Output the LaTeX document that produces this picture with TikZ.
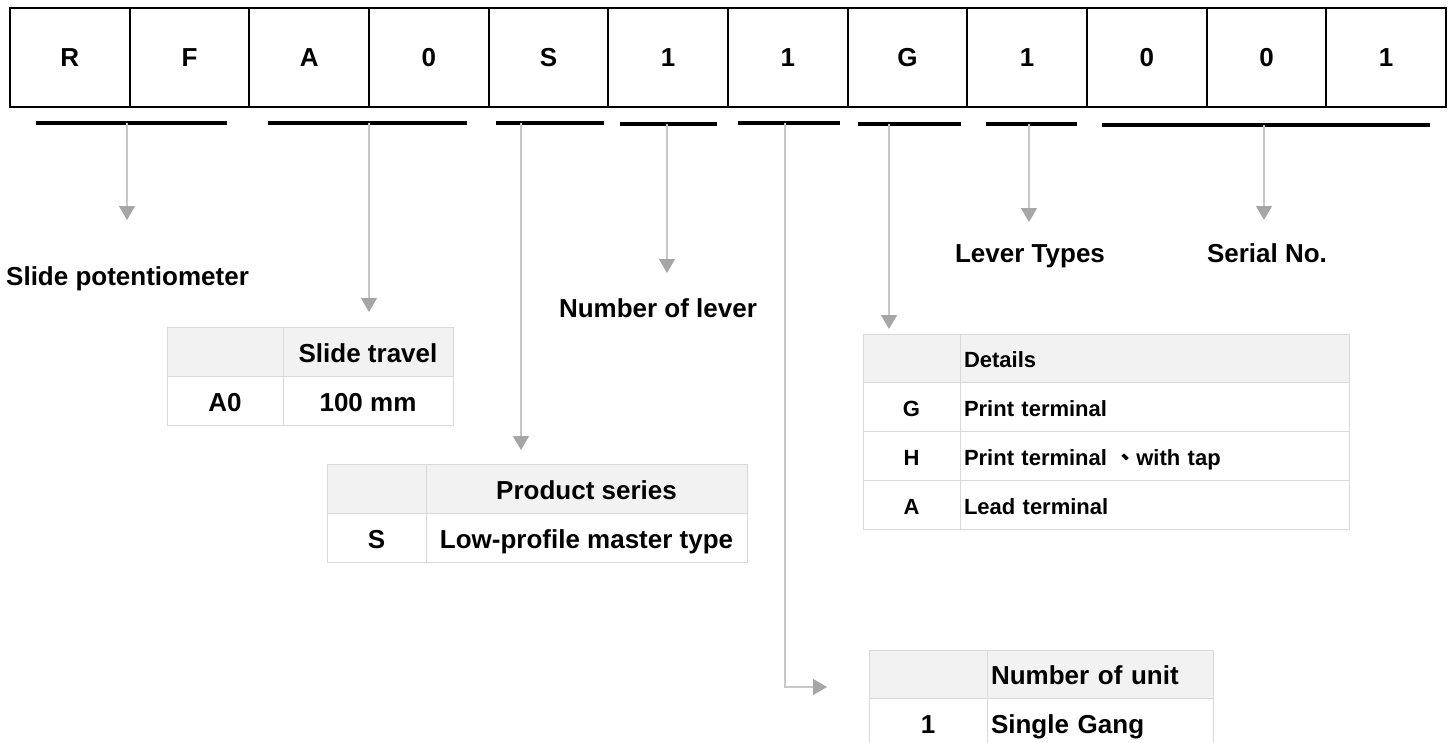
\documentclass[tikz,border=0pt]{standalone}
\usepackage{fontspec}
\setmainfont{Liberation Sans}
\newfontfamily\cjk{Noto Sans CJK TC}
\usetikzlibrary{arrows.meta,positioning}

\definecolor{tblline}{HTML}{D9D9D9}
\definecolor{tblfill}{HTML}{F2F2F2}
\definecolor{linegray}{HTML}{C8C8C8}
\definecolor{tipgray}{HTML}{A6A6A6}

\newcommand{\bigtxt}{\bfseries\fontsize{26}{30}\selectfont}
\newcommand{\smalltxt}{\bfseries\fontsize{22}{26}\selectfont}

\tikzset{
  codecell/.style={draw=black, line width=2pt, outer sep=0pt, inner sep=0pt,
    minimum width=119.67pt, minimum height=99.5pt,
    text height=19pt, text depth=0pt, font=\bigtxt},
  codebar/.style={black, line width=4pt},
  pointer/.style={linegray, line width=1.2pt,
    -{Triangle[width=16pt,length=14pt,color=tipgray]}},
  lbl/.style={inner sep=0pt, font=\bigtxt},
  tcell/.style={draw=tblline, line width=1pt, outer sep=0pt, inner sep=0pt,
    anchor=north west, text height=21pt, text depth=0pt, font=\bigtxt},
  thead/.style={tcell, fill=tblfill},
  small/.style={font=\smalltxt, text height=19pt, text depth=0pt},
}

\begin{document}
\begin{tikzpicture}[x=1pt, y=-1pt]
  \useasboundingbox (0,0) rectangle (1453,742);

  % part number
  \node[codecell] (c1) at (69.83,57.25) {R};
  \node[codecell, right=0pt of c1] (c2) {F};
  \node[codecell, right=0pt of c2] (c3) {A};
  \node[codecell, right=0pt of c3] (c4) {0};
  \node[codecell, right=0pt of c4] (c5) {S};
  \node[codecell, right=0pt of c5] (c6) {1};
  \node[codecell, right=0pt of c6] (c7) {1};
  \node[codecell, right=0pt of c7] (c8) {G};
  \node[codecell, right=0pt of c8] (c9) {1};
  \node[codecell, right=0pt of c9] (c10) {0};
  \node[codecell, right=0pt of c10] (c11) {0};
  \node[codecell, right=0pt of c11] (c12) {1};

  % groups under the code
  \draw[codebar] (36,123) -- (227,123);
  \draw[codebar] (268,123) -- (467,123);
  \draw[codebar] (496,123) -- (604,123);
  \draw[codebar] (620,124) -- (717,124);
  \draw[codebar] (738,123) -- (840,123);
  \draw[codebar] (858,124) -- (961,124);
  \draw[codebar] (986,124) -- (1077,124);
  \draw[codebar] (1102,125) -- (1430,125);

  \coordinate (b1) at (127,123);
  \coordinate (b2) at (369,123);
  \coordinate (b3) at (521,123);
  \coordinate (b4) at (667,124);
  \coordinate (b5) at (785,123);
  \coordinate (b6) at (889,124);
  \coordinate (b7) at (1029,124);
  \coordinate (b8) at (1264,125);

  % labels
  \node[lbl, anchor=base west] (slidepot) at (6,285) {Slide potentiometer};
  \node[lbl, anchor=base] (numlev) at (658,317) {Number of lever};
  \node[lbl, anchor=base] (levtype) at (1030,262) {Lever Types};
  \node[lbl, anchor=base] (serial) at (1267,262) {Serial No.};

  % slide travel
  \node[thead, minimum width=116pt, minimum height=49pt] (trv-h1) at (167,327) {};
  \node[thead, minimum width=170pt, minimum height=49pt, right=0pt of trv-h1] (trv-h2) {Slide travel};
  \node[tcell, minimum width=116pt, minimum height=49pt, below=0pt of trv-h1] (trv-a) {A0};
  \node[tcell, minimum width=170pt, minimum height=49pt, right=0pt of trv-a] (trv-b) {100 mm};

  % product series
  \node[thead, minimum width=99pt, minimum height=49pt] (ser-h1) at (327,464) {};
  \node[thead, minimum width=321pt, minimum height=49pt, right=0pt of ser-h1] (ser-h2) {Product series};
  \node[tcell, minimum width=99pt, minimum height=49pt, below=0pt of ser-h1] (ser-a) {S};
  \node[tcell, minimum width=321pt, minimum height=49pt, right=0pt of ser-a] (ser-b) {Low-profile master type};

  % terminal details
  \node[thead, small, minimum width=97pt, minimum height=48.75pt] (det-h1) at (863,334) {};
  \node[thead, small, minimum height=48.75pt, text width=381pt, inner xsep=4pt, align=left, right=0pt of det-h1] (det-h2) {Details};
  \node[tcell, small, minimum width=97pt, minimum height=48.75pt, below=0pt of det-h1] (det-a1) {G};
  \node[tcell, small, minimum height=48.75pt, text width=381pt, inner xsep=4pt, align=left, right=0pt of det-a1] (det-b1) {Print terminal};
  \node[tcell, small, minimum width=97pt, minimum height=48.75pt, below=0pt of det-a1] (det-a2) {H};
  \node[tcell, small, minimum height=48.75pt, text width=381pt, inner xsep=4pt, align=left, right=0pt of det-a2] (det-b2) {Print terminal {\cjk 、}with tap};
  \node[tcell, small, minimum width=97pt, minimum height=48.75pt, below=0pt of det-a2] (det-a3) {A};
  \node[tcell, small, minimum height=48.75pt, text width=381pt, inner xsep=4pt, align=left, right=0pt of det-a3] (det-b3) {Lead terminal};

  % number of unit
  \node[thead, minimum width=118pt, minimum height=48pt] (unit-h1) at (869,650) {};
  \node[thead, minimum height=48pt, text width=218pt, inner xsep=4pt, align=left, right=0pt of unit-h1] (unit-h2) {Number of unit};
  \node[tcell, minimum width=118pt, minimum height=49pt, below=0pt of unit-h1] (unit-a) {1};
  \node[tcell, minimum height=49pt, text width=218pt, inner xsep=4pt, align=left, right=0pt of unit-a] (unit-b) {Single Gang};

  % pointers
  \coordinate (p1) at (127,220);
  \coordinate (p4) at (667,273);
  \coordinate (p5) at (827,687);
  \coordinate (p7) at (1029,222);
  \coordinate (p8) at (1264,220);
  \draw[pointer] (b1) -- (p1);
  \draw[pointer, shorten >=15pt] (b2) -- (b2 |- trv-h1.north);
  \draw[pointer, shorten >=14pt] (b3) -- (b3 |- ser-h1.north);
  \draw[pointer] (b4) -- (p4);
  \draw[pointer] (b5) |- (p5);
  \draw[pointer, shorten >=5pt] (b6) -- (b6 |- det-h1.north);
  \draw[pointer] (b7) -- (p7);
  \draw[pointer] (b8) -- (p8);
\end{tikzpicture}
\end{document}
